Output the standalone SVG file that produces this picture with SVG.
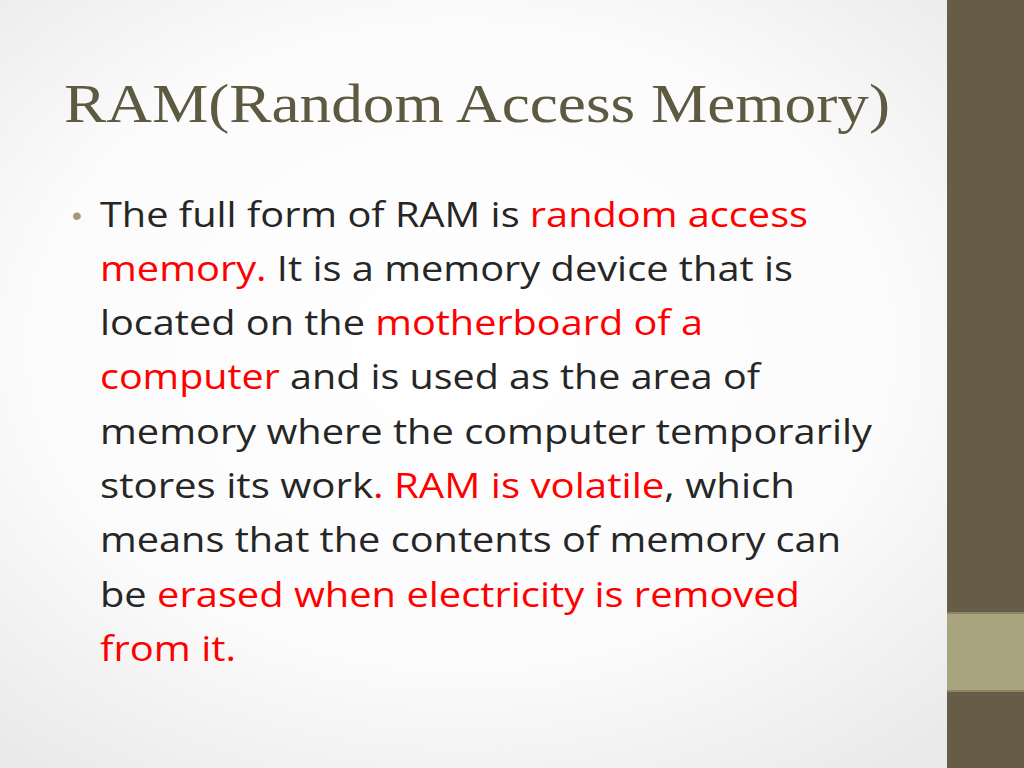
<svg xmlns="http://www.w3.org/2000/svg" width="1024" height="768" viewBox="0 0 1024 768">
<defs>
<radialGradient id="bg" cx="45%" cy="45%" r="70%"><stop offset="0" stop-color="#ffffff"/><stop offset="0.6" stop-color="#fbfbfb"/><stop offset="1" stop-color="#e9e9e9"/></radialGradient>
<style>
.b{font-family:"Open Sans","Liberation Sans",sans-serif;font-size:34px;fill:#262626}
.r{fill:#ff0000}
</style>
</defs>
<rect width="1024" height="768" fill="url(#bg)"/>
<rect x="947" y="0" width="77" height="768" fill="#675c48"/>
<rect x="947" y="614" width="77" height="76" fill="#a8a57e"/>
<rect x="947" y="612" width="77" height="2" fill="#8a8468"/>
<rect x="947" y="690" width="77" height="2" fill="#8a8468"/>
<text x="64" y="122" font-family="Liberation Serif,serif" font-size="54" fill="#5d5a41" textLength="826" lengthAdjust="spacingAndGlyphs">RAM(Random Access Memory)</text>
<text x="72" y="225" font-family="Liberation Sans,sans-serif" font-size="28" fill="#a09a7a">•</text>
<g class="b">
<text x="100" y="227" textLength="708" lengthAdjust="spacingAndGlyphs">The full form of RAM is <tspan class="r">random access</tspan></text>
<text x="100" y="281" textLength="693" lengthAdjust="spacingAndGlyphs"><tspan class="r">memory.</tspan> It is a memory device that is</text>
<text x="100" y="335" textLength="603" lengthAdjust="spacingAndGlyphs">located on the <tspan class="r">motherboard of a</tspan></text>
<text x="100" y="389" textLength="660" lengthAdjust="spacingAndGlyphs"><tspan class="r">computer</tspan> and is used as the area of</text>
<text x="100" y="444" textLength="772" lengthAdjust="spacingAndGlyphs">memory where the computer temporarily</text>
<text x="100" y="498" textLength="695" lengthAdjust="spacingAndGlyphs">stores its work<tspan class="r">. RAM is volatile</tspan>, which</text>
<text x="100" y="552" textLength="741" lengthAdjust="spacingAndGlyphs">means that the contents of memory can</text>
<text x="100" y="607" textLength="700" lengthAdjust="spacingAndGlyphs">be <tspan class="r">erased when electricity is removed</tspan></text>
<text x="100" y="661" textLength="136" lengthAdjust="spacingAndGlyphs" class="r">from it.</text>
</g>
</svg>
